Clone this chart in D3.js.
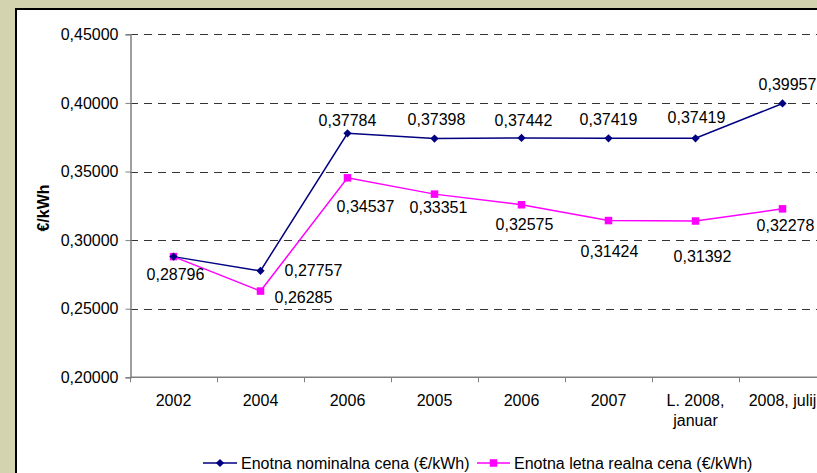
<!DOCTYPE html>
<html><head><meta charset="utf-8">
<script src="https://cdn.jsdelivr.net/npm/d3@7"></script>
<style>
html,body{margin:0;padding:0;background:#D3D3AF;overflow:hidden;}
text{font-family:"Liberation Sans",Arial,sans-serif;}
</style></head>
<body>
<svg id="chart" width="817" height="473"></svg>
<script>
// ---- data ----
const categories = ["2002", "2004", "2006", "2005", "2006", "2007", "L. 2008,\njanuar", "2008, julij"];
const nominal = [0.28796, 0.27757, 0.37784, 0.37398, 0.37442, 0.37419, 0.37419, 0.39957];
const real = [0.28796, 0.26285, 0.34537, 0.33351, 0.32575, 0.31424, 0.31392, 0.32278];
const yTicks = [0.20, 0.25, 0.30, 0.35, 0.40, 0.45];
const seriesNames = ["Enotna nominalna cena (€/kWh)", "Enotna letna realna cena (€/kWh)"];
const yTitle = "€/kWh";
// label layout offsets (dx, dy from point to label centre); null = hidden
const nominalLabelOffsets = [null, [53, -1], [0, -13], [2, -19], [2, -18], [0, -19], [1, -21], [5, -19]];
const realLabelOffsets = [[2, 18], [43, 6], [18, 28], [4, 13], [3, 19], [1, 31], [7, 35], [3, 16]];

const svg = d3.select("#chart");
const W = 817, H = 473, FS = 16, BL = 5.8;
const pLeft = 130, pRight = 826, pTop = 34.3, pBottom = 377.3;
const navy = "#000080", magenta = "#FF00FF";

// background panel
svg.append("rect").attr("x", 0).attr("y", 0).attr("width", W).attr("height", H).attr("fill", "#D3D3AF");
svg.append("rect").attr("x", 16).attr("y", 9).attr("width", W).attr("height", H).attr("fill", "#fff");
svg.append("line").attr("x1", 16).attr("x2", 16).attr("y1", 8).attr("y2", H).attr("stroke", "#000").attr("stroke-width", 2);
svg.append("line").attr("x1", 15).attr("x2", W).attr("y1", 9).attr("y2", 9).attr("stroke", "#000").attr("stroke-width", 2);

const idx = categories.map((d, i) => i);
const x = d3.scaleBand().domain(idx).range([pLeft, pRight]).padding(0);
const cx = i => x(i) + x.bandwidth() / 2;
const y = d3.scaleLinear().domain([0.20, 0.45]).range([pBottom, pTop]);

// gridlines
svg.append("g").selectAll("line").data(yTicks.filter(t => t > 0.2)).join("line")
  .attr("x1", pLeft).attr("x2", pRight).attr("y1", d => Math.round(y(d)) + 0.5).attr("y2", d => Math.round(y(d)) + 0.5)
  .attr("stroke", "#333").attr("stroke-width", 1).attr("stroke-dasharray", "8,6");

// y axis
const yAxis = d3.axisLeft(y).tickValues(yTicks).tickSize(5).tickPadding(7)
  .tickFormat(d => d3.format(".5f")(d).replace(".", ","));
const gy = svg.append("g").attr("transform", `translate(${pLeft + 0.5},0)`).call(yAxis);
gy.select(".domain").attr("stroke", "#808080").attr("stroke-width", 1.5);
gy.selectAll(".tick line").attr("stroke", "#808080");
gy.selectAll(".tick text").attr("font-size", FS).attr("fill", "#000").attr("font-family", "Liberation Sans, Arial, sans-serif");

// x axis
const gx = svg.append("g");
gx.append("line").attr("x1", pLeft).attr("x2", pRight).attr("y1", pBottom).attr("y2", pBottom)
  .attr("stroke", "#808080").attr("stroke-width", 1.5);
gx.selectAll("line.tk").data(idx.concat([categories.length])).join("line").attr("class", "tk")
  .attr("x1", d => (d < categories.length ? x(d) : pRight) + 0.5)
  .attr("x2", d => (d < categories.length ? x(d) : pRight) + 0.5)
  .attr("y1", pBottom).attr("y2", pBottom + 5).attr("stroke", "#808080");
gx.selectAll("text").data(idx).join("text")
  .attr("text-anchor", "middle").attr("font-size", FS).attr("fill", "#000")
  .each(function (i) {
    const lines = categories[i].split("\n");
    d3.select(this).selectAll("tspan").data(lines).join("tspan")
      .attr("x", cx(i)).attr("y", (d, k) => 405.5 + k * 20).text(d => d);
  });

// y title
svg.append("text").attr("transform", "translate(48.5,208) rotate(-90)")
  .attr("text-anchor", "middle").attr("font-size", FS).attr("font-weight", "bold").text(yTitle);

// lines
const line = d3.line().x((d, i) => cx(i)).y(d => y(d));
svg.append("path").datum(nominal).attr("d", line).attr("fill", "none").attr("stroke", navy).attr("stroke-width", 1.5);
svg.append("path").datum(real).attr("d", line).attr("fill", "none").attr("stroke", magenta).attr("stroke-width", 1.5);

// markers
svg.append("g").selectAll("rect").data(real).join("rect")
  .attr("x", (d, i) => cx(i) - 3.75).attr("y", d => y(d) - 3.75).attr("width", 7.5).attr("height", 7.5).attr("fill", magenta);
svg.append("g").selectAll("path").data(nominal).join("path")
  .attr("d", d3.symbol().type(d3.symbolSquare).size(34))
  .attr("transform", (d, i) => `translate(${cx(i)},${y(d)}) rotate(45)`).attr("fill", navy);

// data labels
const fmt = d => d3.format(".5f")(d).replace(".", ",");
function labels(data, offs) {
  svg.append("g").selectAll("text").data(data.map((v, i) => ({ v, i })).filter(d => offs[d.i]))
    .join("text").attr("text-anchor", "middle").attr("font-size", FS).attr("fill", "#000")
    .attr("x", d => cx(d.i) + offs[d.i][0]).attr("y", d => y(d.v) + offs[d.i][1] + BL).text(d => fmt(d.v));
}
labels(nominal, nominalLabelOffsets);
labels(real, realLabelOffsets);

// legend
const ly = 463;
const lg = svg.append("g");
lg.append("line").attr("x1", 203).attr("x2", 237).attr("y1", ly).attr("y2", ly).attr("stroke", navy).attr("stroke-width", 1.5);
lg.append("path").attr("d", d3.symbol().type(d3.symbolSquare).size(34)).attr("transform", `translate(220,${ly}) rotate(45)`).attr("fill", navy);
lg.append("text").attr("x", 241).attr("y", ly + BL).attr("font-size", FS).text(seriesNames[0]);
lg.append("line").attr("x1", 477).attr("x2", 510).attr("y1", ly).attr("y2", ly).attr("stroke", magenta).attr("stroke-width", 1.5);
lg.append("rect").attr("x", 489.75).attr("y", ly - 3.75).attr("width", 7.5).attr("height", 7.5).attr("fill", magenta);
lg.append("text").attr("x", 514).attr("y", ly + BL).attr("font-size", FS).text(seriesNames[1]);
</script>
</body></html>
